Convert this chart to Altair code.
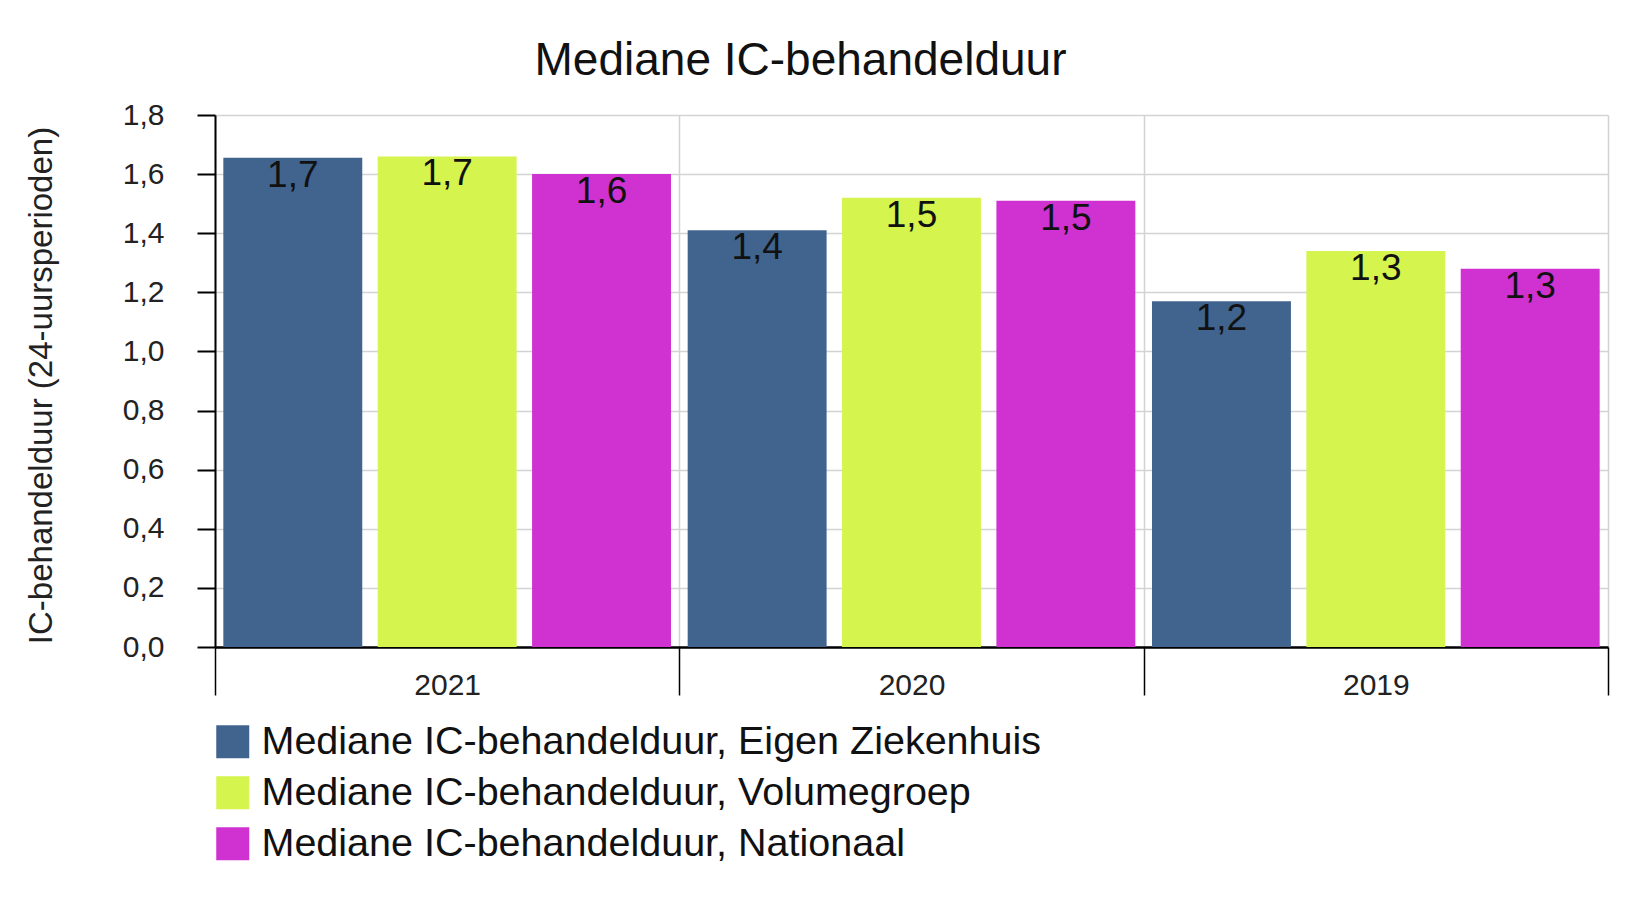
import altair as alt
import pandas as pd

years = ["2021", "2020", "2019"]
series = [
    "Mediane IC-behandelduur, Eigen Ziekenhuis",
    "Mediane IC-behandelduur, Volumegroep",
    "Mediane IC-behandelduur, Nationaal",
]
eigen = [1.655, 1.41, 1.17]
volume = [1.66, 1.52, 1.34]
nationaal = [1.60, 1.51, 1.28]
colors = ["#41648f", "#d5f44d", "#cf32d0"]
y_ticks = [0.0, 0.2, 0.4, 0.6, 0.8, 1.0, 1.2, 1.4, 1.6, 1.8]

rows = []
for s, vals in zip(series, [eigen, volume, nationaal]):
    for yr, v in zip(years, vals):
        rows.append({"jaar": yr, "reeks": s, "waarde": v})
df = pd.DataFrame(rows)

FONT = "Liberation Sans"

base = alt.Chart(df).transform_calculate(
    label="replace(format(datum.waarde, '.1f'), '.', ',')"
)

x_enc = alt.X(
    "jaar:N",
    sort=years,
    scale=alt.Scale(paddingInner=0, paddingOuter=0),
    axis=alt.Axis(
        title=None,
        tickBand="extent",
        tickSize=48,
        tickColor="black",
        tickWidth=1.5,
        domainColor="black",
        domainWidth=2.5,
        labelFontSize=30,
        labelColor="#222",
        labelPadding=-25,
        labelFont=FONT,
        grid=True,
        gridColor="#d3d3d3",
        gridWidth=1.5,
        labelAngle=0,
    ),
)
xo_enc = alt.XOffset(
    "reeks:N", sort=series, scale=alt.Scale(paddingInner=0.1, paddingOuter=0.054)
)

bars = base.mark_bar().encode(
    x=x_enc,
    xOffset=xo_enc,
    y=alt.Y(
        "waarde:Q",
        stack=None,
        scale=alt.Scale(domain=[0, 1.8], nice=False),
        axis=alt.Axis(
            title="IC-behandelduur (24-uursperioden)",
            titleFont=FONT,
            titleFontSize=33,
            titleFontWeight="normal",
            titleColor="#222",
            titleX=-157,
            titleY=270,
            values=y_ticks,
            labelExpr="replace(format(datum.value, '.1f'), '.', ',')",
            labelFontSize=30,
            labelFont=FONT,
            labelColor="#222",
            labelPadding=33,
            tickSize=18,
            tickColor="black",
            tickWidth=2,
            domainColor="black",
            domainWidth=2,
            gridColor="#d3d3d3",
            gridWidth=1.5,
        ),
    ),
    color=alt.Color(
        "reeks:N",
        sort=series,
        scale=alt.Scale(domain=series, range=colors),
        legend=alt.Legend(
            title=None,
            orient="none",
            legendX=-2,
            legendY=607,
            direction="vertical",
            symbolType="square",
            symbolSize=1089,
            symbolStrokeWidth=0,
            labelFontSize=39.5,
            labelFont=FONT,
            labelColor="#111",
            labelLimit=2000,
            labelOffset=9,
            rowPadding=10,
            padding=0,
        ),
    ),
)

texts = base.mark_text(baseline="top", dy=0, fontSize=37, font=FONT, color="#111").encode(
    x=alt.X("jaar:N", sort=years),
    xOffset=alt.XOffset("reeks:N", sort=series),
    y=alt.Y("waarde:Q", stack=None),
    text="label:N",
)

chart = (
    alt.layer(bars, texts)
    .properties(
        width=1393,
        height=532,
        autosize=alt.AutoSizeParams(type="none"),
        padding={"left": 207, "top": 107, "right": 18, "bottom": 240},
        title=alt.TitleParams(
            "Mediane IC-behandelduur",
            font=FONT,
            fontSize=46,
            fontWeight="normal",
            color="#111",
            anchor="middle",
            dx=-111,
            dy=60,
            baseline="alphabetic",
            offset=39,
        ),
        background="white",
    )
    .configure_view(strokeWidth=0)
)

chart.save("out.html", embed_options={"renderer": "svg", "actions": False})
